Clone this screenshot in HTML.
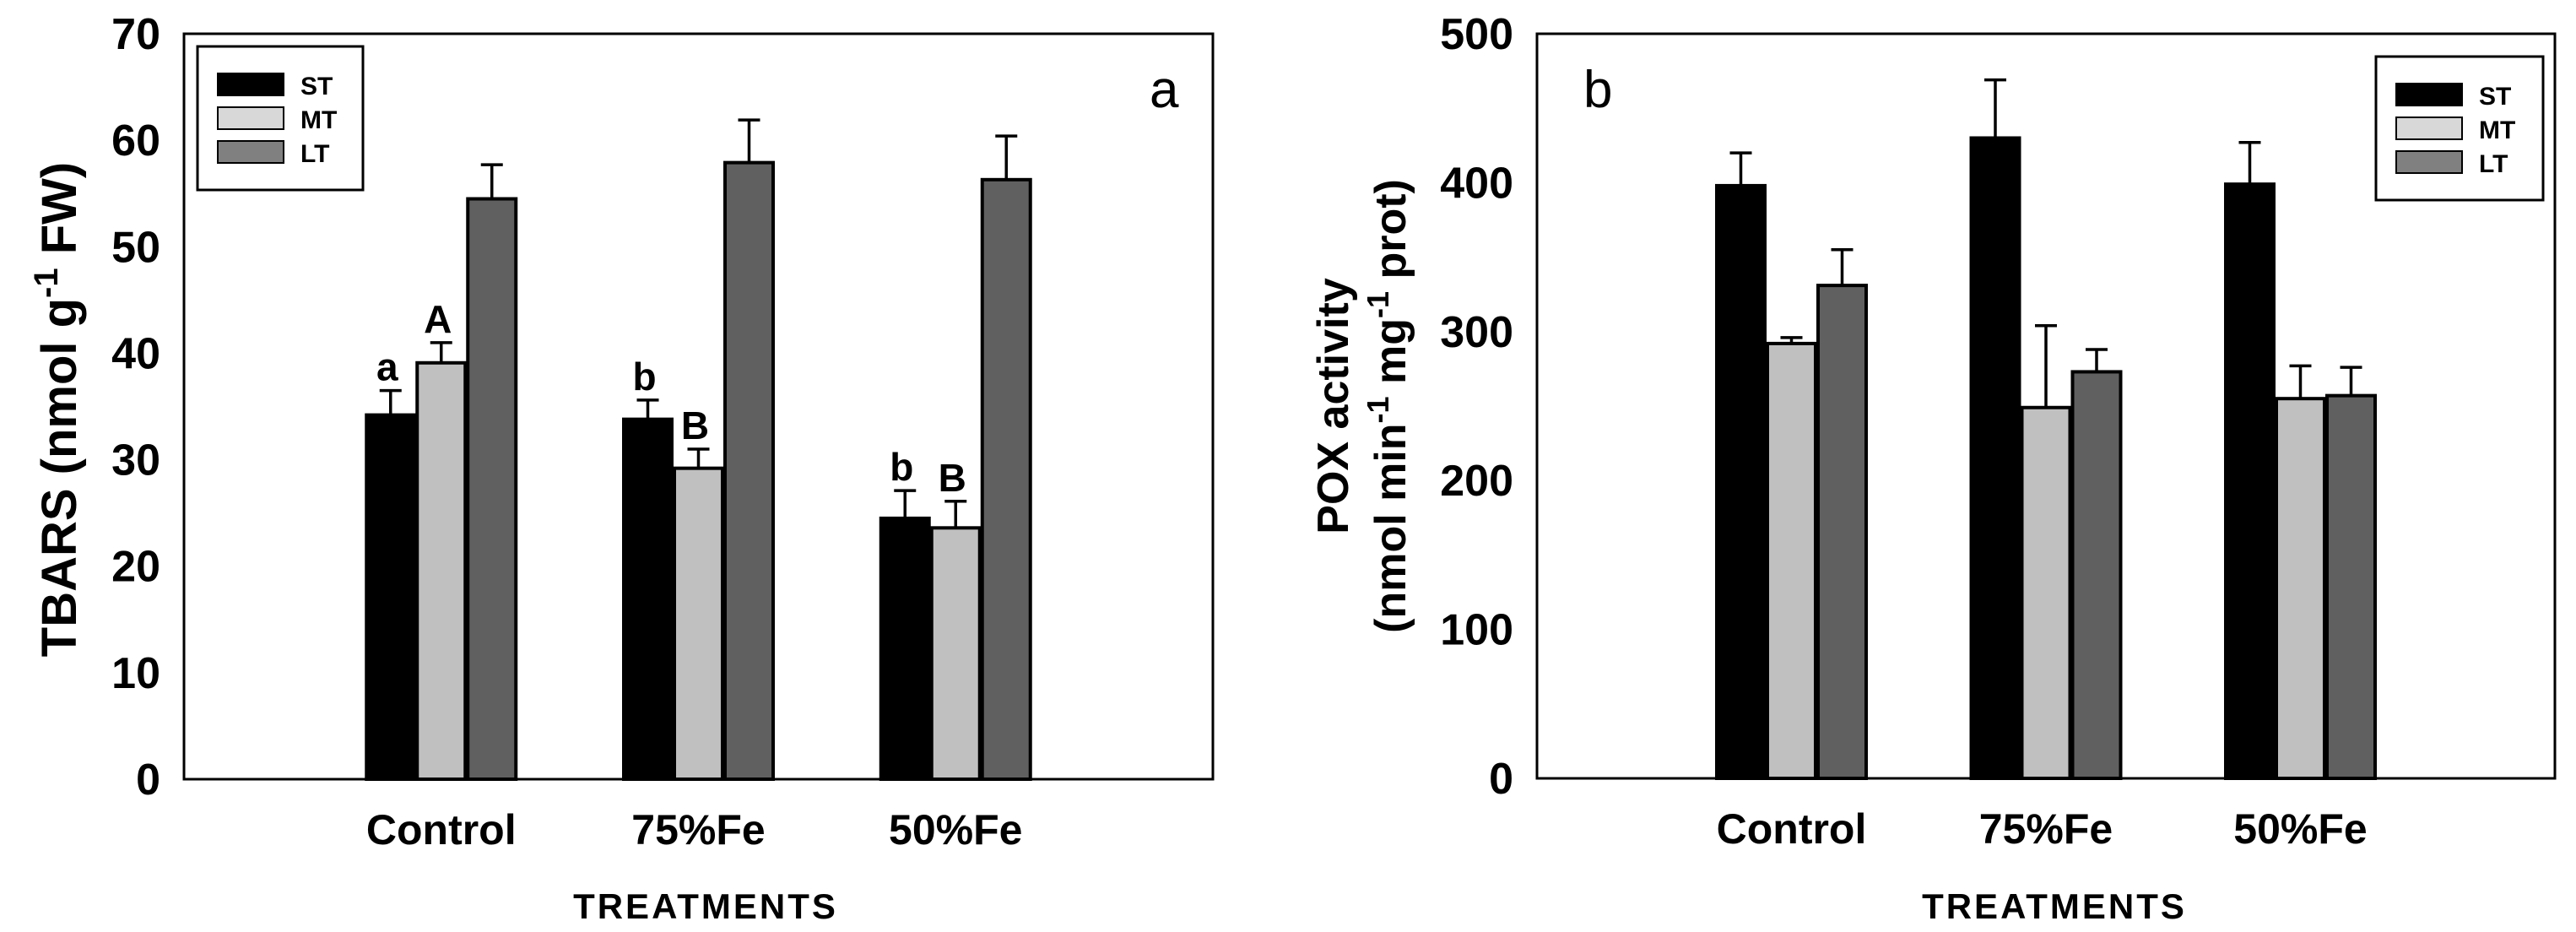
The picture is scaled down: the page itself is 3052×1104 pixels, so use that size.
<!DOCTYPE html>
<html><head><meta charset="utf-8"><style>
html,body{margin:0;padding:0;background:#fff;}
svg{display:block;}
text{font-family:"Liberation Sans Narrow","Liberation Sans",sans-serif;font-weight:bold;fill:#000;}
</style></head><body>
<svg id="fig" width="3052" height="1104" viewBox="0 0 3052 1104" xmlns="http://www.w3.org/2000/svg">
<g id="chartA"></g>
<g id="chartB"></g>
</svg>
<script>
const categories = ["Control", "75%Fe", "50%Fe"];
const seriesNames = ["ST", "MT", "LT"];
// Chart a: TBARS
const tbarsST = [34.2, 33.8, 24.5];
const tbarsMT = [39.1, 29.2, 23.6];
const tbarsLT = [54.5, 57.9, 56.3];
const tbarsErrST = [2.3, 1.8, 2.6];
const tbarsErrMT = [1.9, 1.8, 2.5];
const tbarsErrLT = [3.2, 4.0, 4.1];
const tbarsLettersST = ["a", "b", "b"];
const tbarsLettersMT = ["A", "B", "B"];
const tbarsTicks = [0, 10, 20, 30, 40, 50, 60, 70];
// Chart b: POX
const poxST = [398, 430, 399];
const poxMT = [292, 249, 255];
const poxLT = [331, 273, 257];
const poxErrST = [22, 39, 28];
const poxErrMT = [4, 55, 22];
const poxErrLT = [24, 15, 19];
const poxTicks = [0, 100, 200, 300, 400, 500];

const NS = "http://www.w3.org/2000/svg";
const fills = ["#000000", "#c0c0c0", "#606060"];
const legendFills = ["#000000", "#d8d8d8", "#808080"];

function mk(parent, tag, attrs, txt) {
  const e = document.createElementNS(NS, tag);
  for (const k in attrs) e.setAttribute(k, attrs[k]);
  if (txt !== undefined) e.textContent = txt;
  parent.appendChild(e);
  return e;
}

function drawChart(g, cfg) {
  const yScale = v => cfg.bottom - (v - cfg.ymin) / (cfg.ymax - cfg.ymin) * (cfg.bottom - cfg.top);
  const xScale = i => cfg.left + (i + 1) * (cfg.right - cfg.left) / 4;
  // bars
  cfg.series.forEach((vals, s) => {
    vals.forEach((v, i) => {
      const cx = xScale(i) + (s - 1) * cfg.bw;
      const x0 = cx - cfg.bw / 2;
      const r = mk(g, "rect", {x: x0 + 1.5, y: yScale(v), width: cfg.bw - 3, height: yScale(0) - yScale(v), fill: fills[s], stroke: "#000", "stroke-width": 4});
      
      
      const top = v + cfg.errs[s][i];
      const el = mk(g, "path", {d: `M${cx},${yScale(v)}V${yScale(top)}M${cx - 13},${yScale(top)}H${cx + 13}`, stroke: "#000", "stroke-width": 3.5, fill: "none"});
      
      
      if (cfg.letters && cfg.letters[s]) {
        const t = mk(g, "text", {x: cx - 4, y: yScale(top) - 12, "text-anchor": "middle", "font-size": 46}, cfg.letters[s][i]);
        
        
      }
    });
  });
  // frame
  const f = mk(g, "rect", {x: cfg.left, y: cfg.top, width: cfg.right - cfg.left, height: cfg.bottom - cfg.top, fill: "none", stroke: "#000", "stroke-width": 3});
  
  
  // ticks
  cfg.ticks.forEach(t => {
    const tl = mk(g, "text", {x: cfg.left - 28, y: yScale(t) + 18, "text-anchor": "end", "font-size": 52}, String(t));
    
    
  });
  categories.forEach((c, i) => {
    const cl = mk(g, "text", {x: xScale(i), y: cfg.bottom + 77, "text-anchor": "middle", "font-size": 50}, c);
    
    
  });
  const xt = mk(g, "text", {x: cfg.xTitleX, y: 1088, "text-anchor": "middle", "font-size": 42, "letter-spacing": 3}, "TREATMENTS");
  
  
  // legend
  const L = cfg.legend;
  const lb = mk(g, "rect", {x: L.x, y: L.y, width: L.w, height: L.h, fill: "#fff", stroke: "#000", "stroke-width": 3});
  
  
  seriesNames.forEach((n, s) => {
    const sw = mk(g, "rect", {x: L.x + 24, y: L.y + 32 + s * 40, width: 78, height: 26, fill: legendFills[s], stroke: "#000", "stroke-width": 2});
    
    
    const lt = mk(g, "text", {x: L.x + 122, y: L.y + 57 + s * 40, "font-size": 30}, n);
    
    
  });
  const pl = mk(g, "text", {x: cfg.panel.x, y: cfg.panel.y, "font-size": 62, "font-weight": "normal", style: "font-weight:normal;font-family:'Liberation Sans',sans-serif"}, cfg.panel.t);
  
  
}

const gA = document.getElementById("chartA");
drawChart(gA, {left: 218, right: 1437, top: 40, bottom: 923, ymin: 0, ymax: 70, bw: 60,
  series: [tbarsST, tbarsMT, tbarsLT], errs: [tbarsErrST, tbarsErrMT, tbarsErrLT],
  letters: [tbarsLettersST, tbarsLettersMT, null], ticks: tbarsTicks, xTitleX: 836,
  legend: {x: 234, y: 55, w: 196, h: 170}, panel: {x: 1362, y: 127, t: "a"}});
const ya = mk(gA, "text", {transform: "translate(90,485) rotate(-90)", "text-anchor": "middle", "font-size": 58, style: "font-family:'Liberation Sans',sans-serif"});


mk(ya, "tspan", {}, "TBARS (nmol g");
mk(ya, "tspan", {dy: -22, "font-size": 40}, "-1");
mk(ya, "tspan", {dy: 22}, " FW)");

const gB = document.getElementById("chartB");
drawChart(gB, {left: 1821, right: 3027, top: 40, bottom: 922, ymin: 0, ymax: 500, bw: 60,
  series: [poxST, poxMT, poxLT], errs: [poxErrST, poxErrMT, poxErrLT],
  letters: null, ticks: poxTicks, xTitleX: 2434,
  legend: {x: 2815, y: 67, w: 198, h: 170}, panel: {x: 1876, y: 127, t: "b"}});
const yb1 = mk(gB, "text", {transform: "translate(1597,481) rotate(-90)", "text-anchor": "middle", "font-size": 52, style: "font-family:'Liberation Sans',sans-serif"}, "POX activity");


const yb2 = mk(gB, "text", {transform: "translate(1665,481) rotate(-90)", "text-anchor": "middle", "font-size": 52, style: "font-family:'Liberation Sans',sans-serif"});


mk(yb2, "tspan", {}, "(nmol min");
mk(yb2, "tspan", {dy: -20, "font-size": 36}, "-1");
mk(yb2, "tspan", {dy: 20}, " mg");
mk(yb2, "tspan", {dy: -20, "font-size": 36}, "-1");
mk(yb2, "tspan", {dy: 20}, " prot)");
</script>
</body></html>
